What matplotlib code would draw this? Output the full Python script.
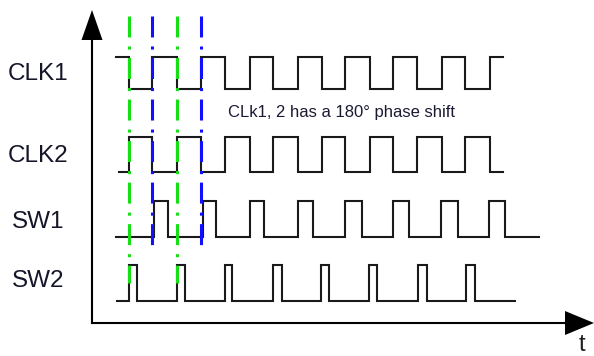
import matplotlib
matplotlib.use('Agg')
import matplotlib.pyplot as plt

plt.rcParams['font.family'] = ['Liberation Sans', 'DejaVu Sans']
plt.rcParams['lines.scale_dashes'] = False

# ---------------- data (time units along the t axis) ----------------
signal_names = ['CLK1', 'CLK2', 'SW1', 'SW2']

clk1_edges = [37, 60, 85, 109, 133, 158, 181, 206, 230, 253, 278, 301, 325, 350, 373, 398]
clk1_span = [24, 411]
clk1_init = 1

clk2_edges = [37, 60, 85, 109, 133, 158, 181, 206, 230, 253, 278, 301, 325, 350, 373, 398]
clk2_span = [27, 411]
clk2_init = 0

sw1_edges = [62, 76, 111, 124, 158, 172, 206, 221, 253, 270, 301, 317, 349, 366, 397, 413]
sw1_span = [24, 447]
sw1_init = 0

sw2_edges = [37, 45, 85, 93, 133, 140, 181, 190, 229, 237, 277, 285, 326, 335, 374, 383]
sw2_span = [25, 423]
sw2_init = 0

green_marks = [37, 85]   # CLK1 falling edges
blue_marks = [60, 109]   # CLK1 rising edges

annotation = 'CLk1, 2 has a 180\u00b0 phase shift'
time_label = 't'

# ---------------- layout ----------------
W, H = 594, 356
x0 = 92            # pixel of the vertical axis
row_levels = [(89, 57), (172, 137), (237, 201), (301, 265)]  # (low, high)
label_pos = [(8, 74), (8, 156), (12, 222), (12, 281)]
t_axis_y = 323
mark_top = 16
green_bottom = 283
blue_bottom = 245

fig = plt.figure(figsize=(W / 100, H / 100), dpi=100)
ax = fig.add_axes([0, 0, 1, 1])
ax.set_xlim(-x0, W - x0)
ax.set_ylim(H, 0)
ax.axis('off')

signals = [
    (clk1_edges, clk1_span, clk1_init),
    (clk2_edges, clk2_span, clk2_init),
    (sw1_edges, sw1_span, sw1_init),
    (sw2_edges, sw2_span, sw2_init),
]

for (edges, span, init), (lo, hi), name, (lx, ly) in zip(signals, row_levels, signal_names, label_pos):
    times = [span[0]] + list(edges) + [span[1]]
    lev = [init]
    for _ in edges:
        lev.append(1 - lev[-1])
    lev.append(lev[-1])
    ys = [hi if v else lo for v in lev]
    ax.plot(times, ys, drawstyle='steps-post', color='#1a1a1a', lw=1.5,
            solid_joinstyle='miter', zorder=2)
    ax.text(lx - x0, ly, name, fontsize=17.5, ha='left', va='center', color='#15152a')

dash = (0, (15.1, 6.5, 2.2, 6.1))
for xm in green_marks:
    ax.plot([xm, xm], [mark_top, green_bottom], color='#14e014', lw=2.2,
            linestyle=dash, dash_capstyle='butt', zorder=3)
for xm in blue_marks:
    ax.plot([xm, xm], [mark_top, blue_bottom], color='#1010ff', lw=2.2,
            linestyle=dash, dash_capstyle='butt', zorder=3)

# axes with arrows
ax.plot([0, 0], [t_axis_y, 38], color='black', lw=1.5, zorder=2)
ax.fill([-10.5, 10.5, 0], [40, 40, 10], color='black', lw=0, zorder=2)
ax.plot([0, 566 - x0], [t_axis_y, t_axis_y], color='black', lw=1.5, zorder=2)
ax.fill([565 - x0, 565 - x0, 594 - x0], [t_axis_y - 12, t_axis_y + 12, t_axis_y],
        color='black', lw=0, zorder=2)

ax.text(582 - x0, 345, time_label, fontsize=17, ha='center', va='center', color='#202020')
ax.text(228 - x0, 112, annotation, fontsize=12, ha='left', va='center', color='#1a1a33')

fig.savefig('out.png', dpi=100)
